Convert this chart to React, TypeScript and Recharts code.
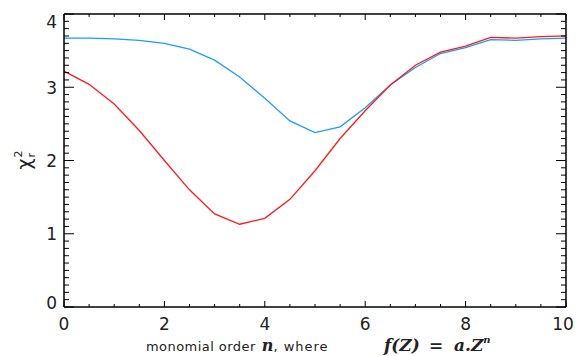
import React from "react";
import { LineChart, Line, XAxis, YAxis } from "recharts";

const orders = [0, 0.5, 1, 1.5, 2, 2.5, 3, 3.5, 4, 4.5, 5, 5.5, 6, 6.5, 7, 7.5, 8, 8.5, 9, 9.5, 10];
const blueChi = [3.67, 3.67, 3.66, 3.64, 3.60, 3.52, 3.37, 3.14, 2.85, 2.54, 2.38, 2.46, 2.72, 3.03, 3.27, 3.46, 3.54, 3.65, 3.64, 3.66, 3.67];
const redChi = [3.22, 3.04, 2.77, 2.41, 2.00, 1.60, 1.27, 1.13, 1.21, 1.47, 1.86, 2.30, 2.68, 3.03, 3.30, 3.48, 3.56, 3.68, 3.67, 3.69, 3.70];

const xMajorTicks = [0, 2, 4, 6, 8, 10];
const xMinorStep = 0.5;
const yMajorTicks = [0, 1, 2, 3, 4];
const yMinorStep = 0.1;

const makeTicks = (max: number, step: number) => {
  const out: number[] = [];
  for (let i = 0; i * step <= max + 1e-9; i++) out.push(Math.round(i * step * 100) / 100);
  return out;
};
const xTicks = makeTicks(10, xMinorStep);
const yTicks = makeTicks(4, yMinorStep);

const data = orders.map((n, i) => ({ n, blue: blueChi[i], red: redChi[i] }));

const FONT = "DejaVu Sans, sans-serif";
const MATH = "DejaVu Serif, serif";
const TICK_COLOR = "#222";

const isMajor = (arr: number[], v: number) => arr.some((m) => Math.abs(m - v) < 1e-6);

const BottomTick = (props: any) => {
  const { x, y, payload } = props;
  const v = payload.value;
  const major = isMajor(xMajorTicks, v);
  return (
    <g>
      <line x1={x} x2={x} y1={y} y2={y - (major ? 6 : 3)} stroke="#000" strokeWidth={1} />
      {major && (
        <text x={v === 10 ? x - 3 : x} y={y + 23} textAnchor="middle" fontSize={17} fontFamily={FONT} fill={TICK_COLOR}>
          {v}
        </text>
      )}
    </g>
  );
};

const TopTick = (props: any) => {
  const { x, y, payload } = props;
  const major = isMajor(xMajorTicks, payload.value);
  return <line x1={x} x2={x} y1={y} y2={y + (major ? 6 : 3)} stroke="#000" strokeWidth={1} />;
};

const LeftTick = (props: any) => {
  const { x, y, payload } = props;
  const v = payload.value;
  const major = isMajor(yMajorTicks, v);
  const shift = v === 0 ? -5 : v === 4 ? 7 : 0;
  return (
    <g>
      <line x1={x} x2={x + (major ? 10 : 5)} y1={y} y2={y} stroke="#000" strokeWidth={1} />
      {major && (
        <text x={x - 7} y={y + 6.5 + shift} textAnchor="end" fontSize={17} fontFamily={FONT} fill={TICK_COLOR}>
          {v}
        </text>
      )}
    </g>
  );
};

const RightTick = (props: any) => {
  const { x, y, payload } = props;
  const major = isMajor(yMajorTicks, payload.value);
  return <line x1={x} x2={x - (major ? 10 : 5)} y1={y} y2={y} stroke="#000" strokeWidth={1} />;
};

const YTitle = () => (
  <text transform="translate(31,160) rotate(-90)" fontFamily={FONT} fill={TICK_COLOR} textAnchor="middle">
    <tspan fontSize={19}>χ</tspan>
    <tspan fontSize={11} dy={-9} dx={1}>2</tspan>
    <tspan fontSize={11} dy={13} dx={-7}>r</tspan>
  </text>
);

const XTitle = () => (
  <text y={351} fontFamily={FONT} fill={TICK_COLOR} fontSize={13}>
    <tspan x={146} letterSpacing={0.45}>monomial order</tspan>
    <tspan dx={6} fontFamily={MATH} fontStyle="italic" fontWeight="bold" fontSize={16}>n</tspan>
    <tspan letterSpacing={1}>, where</tspan>
    <tspan x={384} fontFamily={MATH} fontStyle="italic" fontWeight="bold" fontSize={17}>f(Z)</tspan>
    <tspan x={429} fontFamily={MATH} fontWeight="bold" fontSize={17}>=</tspan>
    <tspan x={454} fontFamily={MATH} fontStyle="italic" fontWeight="bold" fontSize={17}>a.Z</tspan>
    <tspan fontFamily={MATH} fontStyle="italic" fontWeight="bold" fontSize={10} dy={-8}>n</tspan>
  </text>
);

export default function App() {
  return (
    <div style={{ position: "absolute", left: 0, top: 0, width: 576, height: 356, background: "#fff" }}>
      <LineChart width={576} height={356} data={data} margin={{ top: 13, right: 9, bottom: 0, left: 0 }}>
        <XAxis
          xAxisId="top"
          orientation="top"
          dataKey="n"
          type="number"
          domain={[0, 10]}
          ticks={xTicks}
          interval={0}
          height={1}
          tickSize={0}
          tickMargin={0}
          tickLine={false}
          tick={TopTick}
          axisLine={{ stroke: "#000", strokeWidth: 1.5 }}
        />
        <XAxis
          dataKey="n"
          type="number"
          domain={[0, 10]}
          ticks={xTicks}
          interval={0}
          height={49}
          tickSize={0}
          tickMargin={0}
          tickLine={false}
          tick={BottomTick}
          axisLine={{ stroke: "#000", strokeWidth: 1.5 }}
          label={{ content: XTitle } as any}
        />
        <YAxis
          type="number"
          domain={[0, 4]}
          ticks={yTicks}
          interval={0}
          width={64}
          tickSize={0}
          tickMargin={0}
          tickLine={false}
          tick={LeftTick}
          axisLine={{ stroke: "#000", strokeWidth: 1.5 }}
          label={{ content: YTitle } as any}
        />
        <YAxis
          yAxisId="right"
          orientation="right"
          type="number"
          domain={[0, 4]}
          ticks={yTicks}
          interval={0}
          width={1}
          tickSize={0}
          tickMargin={0}
          tickLine={false}
          tick={RightTick}
          axisLine={{ stroke: "#000", strokeWidth: 1.5 }}
        />
        <Line xAxisId="top" dataKey="blue" stroke="#1e9bff" strokeWidth={1.3} dot={false} isAnimationActive={false} />
        <Line yAxisId="right" dataKey="red" stroke="#ff1a1a" strokeWidth={1.3} dot={false} isAnimationActive={false} />
      </LineChart>
    </div>
  );
}
